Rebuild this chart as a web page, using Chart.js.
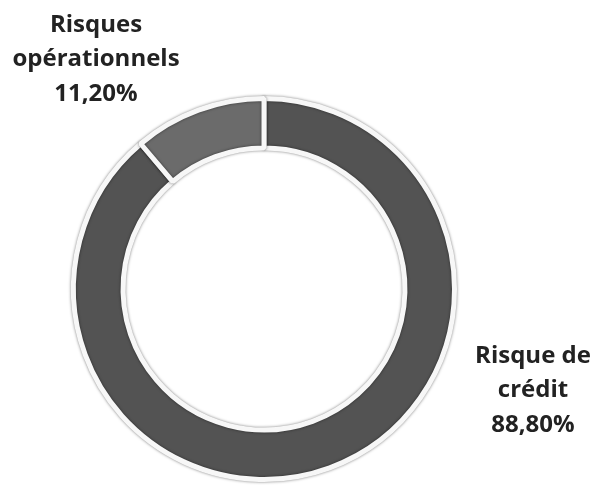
<!DOCTYPE html>
<html>
<head>
<meta charset="utf-8">
<script src="https://cdn.jsdelivr.net/npm/chart.js@4"></script>
<style>
html,body{margin:0;padding:0;background:#fff;}
#wrap{width:595px;height:489px;position:relative;}
</style>
</head>
<body>
<div id="wrap"><canvas id="c" width="595" height="489"></canvas></div>
<script>
const categories = ["Risque de crédit", "Risques opérationnels"];
const values = [88.80, 11.20];
const labelLines = [["Risque de", "crédit", "88,80%"], ["Risques", "opérationnels", "11,20%"]];
const colors = ["#535353", "#6b6b6b"];

const labelPlugin = {
  id: 'labels',
  beforeDatasetsDraw(chart) {
    const ctx = chart.ctx;
    ctx.save();
    ctx.shadowColor = 'rgba(0,0,0,0.5)';
    ctx.shadowBlur = 3;
    ctx.shadowOffsetX = 0;
    ctx.shadowOffsetY = 0;
  },
  afterDatasetsDraw(chart) {
    chart.ctx.restore();
  },
  afterDraw(chart) {
    const ctx = chart.ctx;
    ctx.save();
    ctx.fillStyle = '#222';
    ctx.font = 'bold 24px "Open Sans", sans-serif';
    ctx.textAlign = 'center';
    ctx.textBaseline = 'middle';
    const anchors = [[533, 356], [96, 25]];
    labelLines.forEach((lines, i) => {
      lines.forEach((t, j) => {
        ctx.fillText(t, anchors[i][0], anchors[i][1] + j * 34.5);
      });
    });
    ctx.restore();
  }
};

new Chart(document.getElementById('c'), {
  type: 'doughnut',
  data: {
    labels: categories,
    datasets: [{
      data: values,
      backgroundColor: colors,
      borderColor: '#f7f7f7',
      borderWidth: 5,
      hoverOffset: 0
    }]
  },
  options: {
    responsive: false,
    animation: false,
    cutout: '74%',
    rotation: 0,
    layout: { padding: { top: 96, bottom: 7, left: 71, right: 138 } },
    plugins: { legend: { display: false }, tooltip: { enabled: false } }
  },
  plugins: [labelPlugin]
});
</script>
</body>
</html>
